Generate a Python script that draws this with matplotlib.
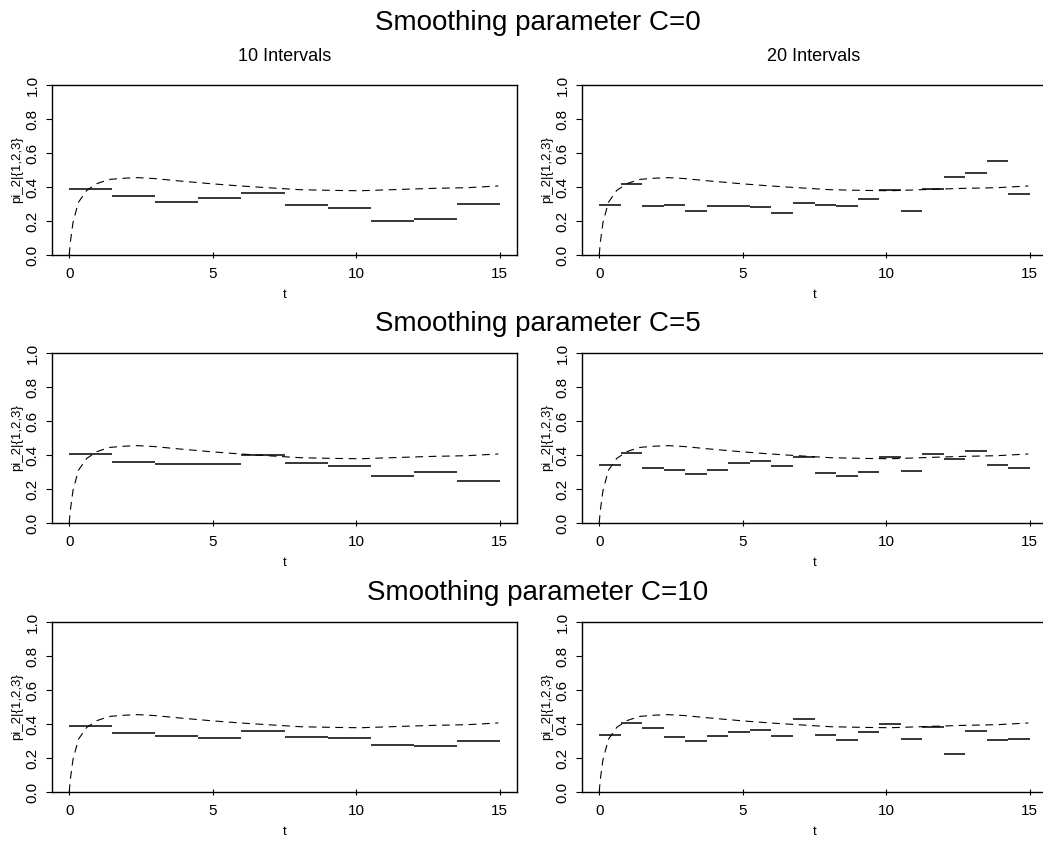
import numpy as np
import matplotlib
matplotlib.use('Agg')
import matplotlib.pyplot as plt

plt.rcParams['font.family'] = ['Liberation Sans', 'DejaVu Sans']

# === DATOS ===
# curva teorica (discontinua), igual en los seis paneles
curva_t = [0, 0.035, 0.13, 0.32, 0.61, 0.97, 1.14, 1.43, 1.95, 2.4, 2.94, 3.87,
           5.03, 5.97, 6.9, 8.06, 9.22, 10.15, 11.55, 12.7, 13.87, 14.95]
curva_pi = [0, 0.07, 0.19, 0.31, 0.38, 0.42, 0.43, 0.445, 0.452, 0.455, 0.45, 0.435,
            0.418, 0.406, 0.396, 0.384, 0.380, 0.378, 0.386, 0.392, 0.396, 0.406]

# estimaciones por intervalo (10 y 20 intervalos)
c0_10 = [0.386, 0.347, 0.314, 0.335, 0.365, 0.294, 0.276, 0.202, 0.210, 0.300]
c0_20 = [0.294, 0.418, 0.290, 0.294, 0.259, 0.290, 0.288, 0.284, 0.249, 0.304,
         0.294, 0.288, 0.327, 0.380, 0.259, 0.390, 0.459, 0.482, 0.555, 0.359]
c5_10 = [0.406, 0.359, 0.345, 0.345, 0.398, 0.353, 0.335, 0.275, 0.298, 0.247]
c5_20 = [0.344, 0.414, 0.326, 0.314, 0.287, 0.312, 0.352, 0.365, 0.336, 0.391,
         0.293, 0.277, 0.301, 0.389, 0.307, 0.404, 0.379, 0.422, 0.340, 0.326]
c10_10 = [0.389, 0.346, 0.330, 0.316, 0.357, 0.326, 0.320, 0.275, 0.270, 0.301]
c10_20 = [0.338, 0.408, 0.375, 0.324, 0.301, 0.330, 0.352, 0.363, 0.330, 0.430,
          0.338, 0.303, 0.355, 0.400, 0.314, 0.381, 0.225, 0.357, 0.305, 0.313]

estimaciones = [[c0_10, c0_20], [c5_10, c5_20], [c10_10, c10_20]]
titulos = ['Smoothing parameter C=0', 'Smoothing parameter C=5', 'Smoothing parameter C=10']
columnas = ['10 Intervals', '20 Intervals']
x_ticks = [0, 5, 10, 15]
y_ticks = [0.0, 0.2, 0.4, 0.6, 0.8, 1.0]
t_max = 15

# === FIGURA ===
W, H = 1043, 841
fig = plt.figure(figsize=(W / 100, H / 100), dpi=100)

filas_top = [85, 353, 622]
cols_left = [52, 582]
ancho, alto = 465, 170

for i, top in enumerate(filas_top):
    for j, left in enumerate(cols_left):
        ax = fig.add_axes([left / W, 1 - (top + alto) / H, ancho / W, alto / H])
        ax.plot(curva_t, curva_pi, color='black', lw=0.8, dashes=(7, 5))
        valores = estimaciones[i][j]
        bordes = np.linspace(0, t_max, len(valores) + 1)
        ax.hlines(valores, bordes[:-1], bordes[1:], color='black', lw=1.1)

        ax.set_xlim(-0.6, 15.6)
        ax.set_ylim(0, 1)
        ax.set_xticks(x_ticks)
        ax.set_yticks(y_ticks)
        ax.set_xticklabels([str(v) for v in x_ticks], fontsize=11)
        ax.set_yticklabels(['%.1f' % v for v in y_ticks], fontsize=11,
                           rotation=90, va='center')
        ax.tick_params(axis='x', direction='inout', length=5, width=0.8, pad=6)
        ax.tick_params(axis='y', direction='out', length=4, width=0.8, pad=5)
        for s in ax.spines.values():
            s.set_linewidth(1.0)
        ax.set_xlabel('t', fontsize=9.5, labelpad=6)
        ax.set_ylabel('pi_2|{1,2,3}', fontsize=9.5, labelpad=2)

# === TITULOS ===
fig.text(538 / W, 1 - 30 / H, titulos[0], fontsize=20, ha='center', va='baseline')
fig.text(538 / W, 1 - 331 / H, titulos[1], fontsize=20, ha='center', va='baseline')
fig.text(538 / W, 1 - 600 / H, titulos[2], fontsize=20, ha='center', va='baseline')
fig.text(285 / W, 1 - 61 / H, columnas[0], fontsize=13, ha='center', va='baseline')
fig.text(814 / W, 1 - 61 / H, columnas[1], fontsize=13, ha='center', va='baseline')

fig.savefig('out.png', dpi=100)
